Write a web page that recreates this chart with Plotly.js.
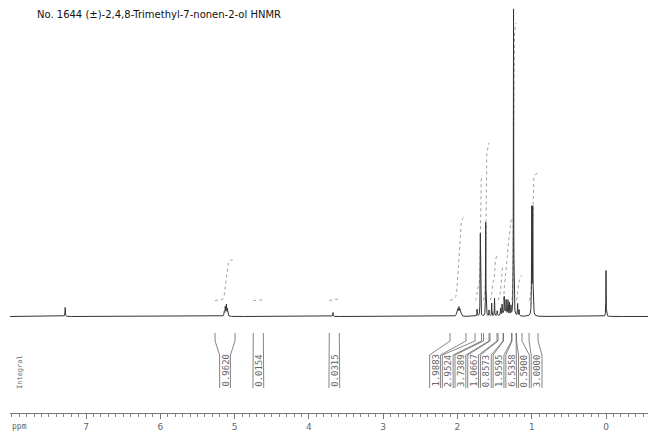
<!DOCTYPE html>
<html>
<head>
<meta charset="utf-8">
<script src="https://cdn.plot.ly/plotly-3.0.1.min.js"></script>
<style>html,body{margin:0;padding:0;background:#fff;}#chart{width:650px;height:432px;}</style>
</head>
<body>
<div id="chart"></div>
<script>
// ---- data ----
const chartTitle = "No. 1644 (±)-2,4,8-Trimethyl-7-nonen-2-ol HNMR";
const tickValues = [0, 1, 2, 3, 4, 5, 6, 7];
const tickLabels = ["0", "1", "2", "3", "4", "5", "6", "7"];
// peak positions (ppm), heights (relative intensity) and line widths (ppm, FWHM)
const peakPpm    = [7.28, 5.095, 5.11, 5.125, 5.14, 3.675,
                    1.95, 1.965, 1.98, 1.995, 2.01,
                    1.736, 1.692, 1.619, 1.575, 1.539, 1.501, 1.465,
                    1.42, 1.40, 1.37, 1.345, 1.32, 1.30, 1.28, 1.36,
                    1.245, 1.19, 1.17, 1.000, 0.986, 0.000];
const peakHeight = [9, 7, 11, 9, 4, 4,
                    3, 6, 8, 6, 3,
                    7, 83, 94, 6, 13, 18, 5,
                    7, 10, 16, 13, 14, 12, 9, 4,
                    307, 12, 6, 106, 106, 46];
const peakWidth  = [0.006, 0.009, 0.009, 0.009, 0.009, 0.006,
                    0.012, 0.012, 0.012, 0.012, 0.012,
                    0.006, 0.005, 0.005, 0.006, 0.005, 0.005, 0.006,
                    0.005, 0.005, 0.005, 0.005, 0.005, 0.005, 0.005, 0.08,
                    0.005, 0.006, 0.006, 0.006, 0.006, 0.005];
// integral regions (ppm) and printed integral values
const integralStart = [5.263, 4.748, 3.725, 2.100, 1.763, 1.649, 1.561, 1.454, 1.380, 1.265, 1.205, 1.036];
const integralEnd   = [4.994, 4.613, 3.590, 1.885, 1.676, 1.575, 1.467, 1.386, 1.272, 1.211, 1.131, 0.915];
const integralValue = ["0.9620", "0.0154", "0.0315", "1.9883", "2.9524", "3.7389", "1.0667",
                       "0.8573", "1.9595", "6.5358", "0.5900", "3.0000"];

// ---- layout constants (pixels -> units) ----
const PX_PER_PPM = 74.29;
const xRange = [8.023, -0.565];
const yRange = [-96.5, 316.5];      // y units are pixels above the spectrum baseline
const integralScale = 42.5;         // px per integral unit
const integralOffset = 16;          // px above baseline where integral curves start

// spectrum sampling
const step = 0.001;
const xs = [], ys = [];
for (let v = xRange[0]; v >= xRange[1]; v -= step) {
  let s = 0;
  for (let k = 0; k < peakPpm.length; k++) {
    const d = (v - peakPpm[k]) / (peakWidth[k] / 2);
    s += peakHeight[k] / (1 + d * d);
  }
  xs.push(v); ys.push(s);
}

// integral curves derived from spectrum
const intX = [], intY = [];
for (let i = 0; i < integralStart.length; i++) {
  const a = integralStart[i], b = integralEnd[i];
  const segX = [], segC = [];
  let c = 0;
  for (let j = 0; j < xs.length; j++) {
    if (xs[j] <= a && xs[j] >= b) { c += ys[j]; segX.push(xs[j]); segC.push(c); }
  }
  const tot = c || 1;
  const val = parseFloat(integralValue[i]);
  for (let j = 0; j < segX.length; j += 2) {
    intX.push(segX[j]);
    intY.push(integralOffset + val * integralScale * segC[j] / tot);
  }
  intX.push(null); intY.push(null);
}

// label centres: isolated labels at region centre, crowded group laid out side by side
const groupStartPx = 435, groupStepPx = 12.7;
const labelCenter = [];
let g = 0;
for (let i = 0; i < integralStart.length; i++) {
  if (integralStart[i] > 2.5) labelCenter.push((integralStart[i] + integralEnd[i]) / 2);
  else { labelCenter.push((606 - (groupStartPx + groupStepPx * g)) / PX_PER_PPM); g++; }
}

// bracket lines
const base = 316.5;
const yTop = base - 333, yBend1 = base - 341, yBend2 = base - 355, yBot = base - 388;
const halfBox = 5.4 / PX_PER_PPM;
const brX = [], brY = [];
for (let i = 0; i < integralStart.length; i++) {
  const a = integralStart[i], b = integralEnd[i], c = labelCenter[i];
  brX.push(a, a, c + halfBox, c + halfBox, null);
  brY.push(yTop, yBend1, yBend2, yBot, null);
  brX.push(b, b, c - halfBox, c - halfBox, null);
  brY.push(yTop, yBend1, yBend2, yBot, null);
}

const traces = [
  {x: intX, y: intY, type: 'scatter', mode: 'lines', hoverinfo: 'skip',
   line: {color: '#a0a0a0', width: 1, dash: 'dot'}},
  {x: xs, y: ys, type: 'scatter', mode: 'lines', hoverinfo: 'skip',
   line: {color: '#333', width: 1}},
  {x: brX, y: brY, type: 'scatter', mode: 'lines', hoverinfo: 'skip',
   line: {color: '#666', width: 0.8}}
];

const annotations = [];
for (let i = 0; i < integralValue.length; i++) {
  annotations.push({x: labelCenter[i], y: base - 370.5, xref: 'x', yref: 'y',
    text: integralValue[i], showarrow: false, textangle: -90,
    font: {family: 'DejaVu Sans Mono', size: 9, color: '#666'}});
}
annotations.push({x: (35 - 10) / 638, y: (413 - 14) / 413, xref: 'paper', yref: 'paper',
  xanchor: 'left', yanchor: 'middle', text: chartTitle, showarrow: false,
  font: {family: 'DejaVu Sans', size: 10, color: '#111'}});
annotations.push({x: (14 - 10) / 638, y: base - 372, xref: 'paper', yref: 'y',
  text: 'Integral', showarrow: false, textangle: -90,
  font: {family: 'DejaVu Sans Mono', size: 7, color: '#666'}});
annotations.push({x: 0, y: (413 - 426) / 413, xref: 'paper', yref: 'paper',
  xanchor: 'left', yanchor: 'middle', text: 'ppm', showarrow: false,
  font: {family: 'DejaVu Sans Mono', size: 8, color: '#666'}});

const layout = {
  width: 650, height: 432,
  margin: {l: 10, r: 2, t: 0, b: 19, pad: 0},
  paper_bgcolor: '#fff', plot_bgcolor: '#fff',
  showlegend: false,
  xaxis: {range: xRange, showgrid: false, zeroline: false, showline: true,
    linecolor: '#777', linewidth: 1, ticks: 'outside', ticklen: 5, tickcolor: '#777',
    tickmode: 'array', tickvals: tickValues, ticktext: tickLabels,
    tickfont: {family: 'DejaVu Sans', size: 9, color: '#666'},
    minor: {dtick: 0.1, tick0: 0, ticks: 'outside', ticklen: 3, tickcolor: '#888', showgrid: false}},
  yaxis: {range: yRange, visible: false, showgrid: false, zeroline: false},
  annotations: annotations
};

Plotly.newPlot('chart', traces, layout, {displayModeBar: false, staticPlot: true});
</script>
</body>
</html>
